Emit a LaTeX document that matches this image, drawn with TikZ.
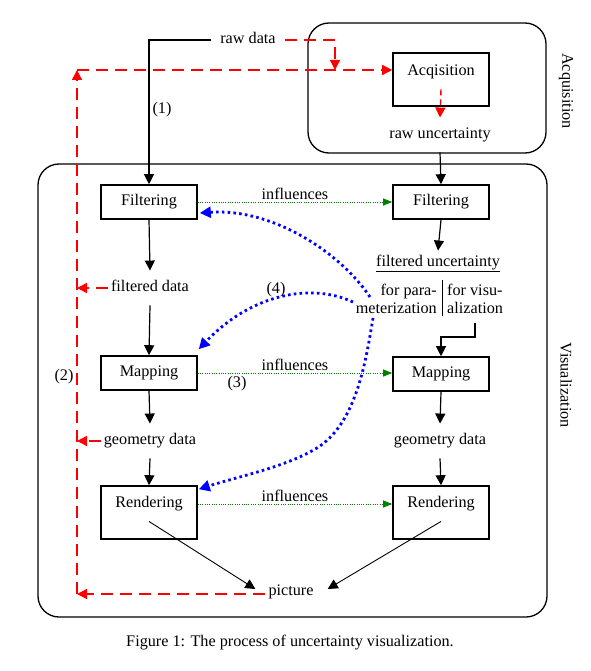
\documentclass[tikz,border=0pt]{standalone}
\usepackage{fontspec}
\setmainfont{Liberation Serif}
\usetikzlibrary{arrows.meta,calc}
\begin{document}
\begin{tikzpicture}[x=1pt,y=-1pt,
  font=\fontsize{16.2}{18}\selectfont,
  lbl/.style={inner xsep=3pt, inner ysep=10pt, text height=11pt, text depth=3.5pt},
  txt/.style={inner sep=1pt, text height=11pt, text depth=3.5pt},
  box/.style={draw, line width=1.6pt, minimum width=96pt, minimum height=34pt, inner sep=0pt},
  tallbox/.style={draw, line width=1.6pt, minimum width=96pt, minimum height=53pt, inner sep=0pt},
  container/.style={draw, line width=1.3pt, rounded corners=21pt, inner sep=0pt},
  arr/.style={line width=1.2pt, -{Triangle[length=10pt,width=10pt]}},
  thinarr/.style={line width=0.9pt, -{Triangle[length=10pt,width=10pt]}},
  redarr/.style={red, line width=1.4pt, dash pattern=on 12pt off 7pt, -{Triangle[length=10pt,width=10pt]}},
  redshort/.style={red, line width=1.4pt, dash pattern=on 6pt off 4pt, -{Triangle[length=10pt,width=10pt]}},
  inf/.style={green!50!black, line width=0.9pt, dash pattern=on 1pt off 1.3pt, -{Triangle[length=9pt,width=7pt]}},
  inflbl/.style={above=1pt, inner sep=1pt, text=black},
  blu/.style={blue, line width=2.8pt, dash pattern=on 2.6pt off 3.2pt, -{Triangle[length=11pt,width=11pt]}}
]
\useasboundingbox (0,0) rectangle (590,671);

% containers
\node[container, minimum width=238pt, minimum height=130pt] (acqC) at (427,88) {};
\node[container, minimum width=509pt, minimum height=453pt] (visC) at (292.5,390.5) {};
\node[rotate=-90, inner sep=0pt] (acqLab) at (566,91) {Acquisition};
\node[rotate=-90, inner sep=0pt] (visLab) at (566,385) {Visualization};

% acquisition
\node[lbl, inner xsep=9pt] (rawdata) at (248,40) {raw data};
\node[tallbox] (acq) at (441,79.5) {};
\node[lbl] (acqt) at (441,72) {Acqisition};
\node[lbl] (rawunc) at (440,135) {raw uncertainty};

% left column
\node[box] (filtL) at (149,202) {Filtering};
\node[lbl] (fdata) at (150,288) {filtered data};
\node[box] (mapL) at (149,373) {Mapping};
\node[lbl] (gdataL) at (150,441) {geometry data};
\node[tallbox] (rendL) at (149,512.5) {};
\node[lbl] (rendLt) at (149,504) {Rendering};
\node[lbl] (picture) at (291,592) {picture};

% right column
\node[box] (filtR) at (441,202) {Filtering};
\node[lbl] (funct) at (438,263) {\underline{filtered uncertainty}};
\node[anchor=east, align=right, inner sep=0pt] (para) at (437,299) {for para-\\meterization};
\node[anchor=west, align=left, inner sep=0pt] (visu) at (447,299) {for visu-\\alization};
\node[box] (mapR) at (441,374) {Mapping};
\node[lbl] (gdataR) at (440,441) {geometry data};
\node[tallbox] (rendR) at (441,512.5) {};
\node[lbl] (rendRt) at (441,504) {Rendering};

% numbers
\node[txt] (n1) at (162,110) {(1)};
\node[txt] (n2) at (64,377) {(2)};
\node[txt] (n3) at (237,384) {(3)};
\node[txt] (n4) at (276,290) {(4)};

% caption
\node[txt] (caption) at (290,643) {Figure 1: The process of uncertainty visualization.};

% coordinates
\coordinate (cTL) at (77,70);
\coordinate (cBL) at (77,594);
\coordinate (cRD) at (335,70);
\coordinate (b1s) at (370,297);
\coordinate (b2s) at (353,302);
\coordinate (b3s) at (373,318);
\coordinate (sepT) at (442,280);
\coordinate (sepB) at (442,316);
\coordinate (visuS) at (475,323);

% separator
\draw[line width=1pt] (sepT) -- (sepB);

% black arrows
\draw[arr] (rawdata.west) -| (filtL.north);
\draw[arr] (rawunc.south) -- (filtR.north);
\draw[arr] (filtL.south) -- (fdata.north);
\draw[arr] (fdata.south) -- (mapL.north);
\draw[arr] (mapL.south) -- (gdataL.north);
\draw[arr] (gdataL.south) -- (rendL.north);
\draw[arr] (filtR.south) -- ($(funct.north)+(0,5)$);
\draw[arr] (visuS) -- ++(0,14) -| (mapR.north);
\draw[arr] (mapR.south) -- (gdataR.north);
\draw[arr] (gdataR.south) -- (rendR.north);
\draw[thinarr] (rendLt.south) -- ($(picture.west)+(-10,-3)$);
\draw[thinarr] (rendRt.south) -- ($(picture.east)+(11,-3)$);

% red dashed arrows
\draw[redarr] (rawdata.east) -| (cRD);
\draw[redarr] (cTL) -- (cTL -| acq.west);
\draw[redarr] (cBL) -- (cTL);
\draw[redarr] (picture.west |- cBL) -- (cBL);
\draw[redarr] (fdata.west) -- (fdata.west -| cBL);
\draw[redarr] (gdataL.west) -- (gdataL.west -| cBL);
\draw[redshort] (acqt.south) -- (rawunc.north);

% influences
\draw[inf] (filtL.east) -- node[inflbl] (inf1) {influences} (filtR.west);
\draw[inf] (mapL.east |- 373,373) -- node[inflbl] (inf2) {influences} (mapR.west |- 373,373);
\draw[inf] (rendL.east |- rendLt) -- node[inflbl] (inf3) {influences} (rendR.west |- rendLt);

% blue dotted curves
\draw[blu] (b1s) .. controls (340,252) and (272,208) .. ($(filtL.east)+(2,11)$);
\draw[blu] (b2s) .. controls (310,282) and (250,295) .. ($(mapL.north east)+(1,-6)$);
\draw[blu] (b3s) .. controls (366,360) and (357,420) .. (320,446)
  .. controls (290,466) and (240,476) .. ($(rendL.north east)+(1,4)$);
\end{tikzpicture}
\end{document}
